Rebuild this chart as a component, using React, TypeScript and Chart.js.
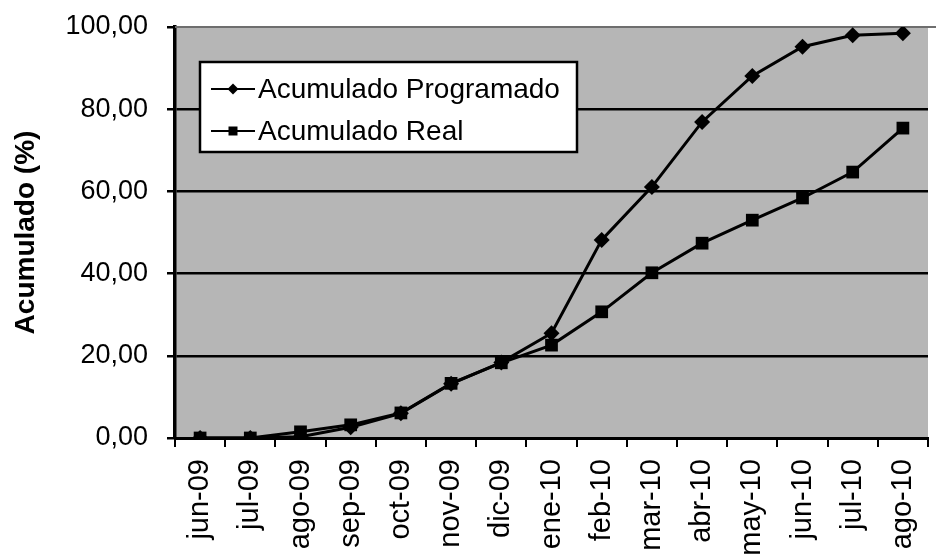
import React, { useEffect, useRef } from 'react';
import { Chart, registerables } from 'chart.js';

Chart.register(...registerables);

const categories = ['jun-09', 'jul-09', 'ago-09', 'sep-09', 'oct-09', 'nov-09', 'dic-09', 'ene-10', 'feb-10', 'mar-10', 'abr-10', 'may-10', 'jun-10', 'jul-10', 'ago-10'];
const programado = [0, 0, 0.3, 2.6, 6.0, 13.2, 18.4, 25.5, 48.2, 61.1, 76.9, 88.1, 95.2, 98.0, 98.5];
const real = [0, 0, 1.5, 3.2, 6.1, 13.3, 18.3, 22.6, 30.7, 40.2, 47.4, 53.0, 58.4, 64.7, 75.4];
const seriesNames = ['Acumulado Programado', 'Acumulado Real'];
const yMin = 0;
const yMax = 100;
const yStep = 20;
const axisTitle = 'Acumulado (%)';

const FONT = "'Liberation Sans', Arial, Helvetica, sans-serif";

const plotBg = {
  id: 'plotBg',
  beforeDraw(chart: any) {
    const { ctx, chartArea: a } = chart;
    ctx.save();
    ctx.fillStyle = '#b6b6b6';
    ctx.fillRect(a.left, a.top, a.right - a.left, a.bottom - a.top);
    ctx.restore();
  },
  beforeDatasetsDraw(chart: any) {
    const { ctx, chartArea: a } = chart;
    ctx.save();
    ctx.strokeStyle = '#6e6e6e';
    ctx.lineWidth = 2;
    ctx.beginPath();
    ctx.moveTo(a.left, a.top);
    ctx.lineTo(a.right + 10, a.top);
    ctx.stroke();
    ctx.restore();
  },
};

const boxLegend = {
  id: 'boxLegend',
  afterDraw(chart: any) {
    const { ctx, chartArea: a } = chart;
    const left = a.left + 25;
    const top = a.top + 35;
    const w = 377;
    const h = 90;
    ctx.save();
    ctx.fillStyle = '#ffffff';
    ctx.fillRect(left, top, w, h);
    ctx.strokeStyle = '#000';
    ctx.lineWidth = 2.5;
    ctx.strokeRect(left, top, w, h);
    const rows = [top + 27, top + 69];
    chart.data.datasets.forEach((ds: any, i: number) => {
      const y = rows[i];
      const x0 = left + 11;
      const x1 = left + 55;
      const xm = (x0 + x1) / 2;
      ctx.strokeStyle = '#000';
      ctx.lineWidth = 2;
      ctx.beginPath();
      ctx.moveTo(x0, y);
      ctx.lineTo(x1, y);
      ctx.stroke();
      ctx.fillStyle = '#000';
      ctx.beginPath();
      if (ds.pointStyle === 'rectRot') {
        const r = 5.5;
        ctx.moveTo(xm, y - r);
        ctx.lineTo(xm + r, y);
        ctx.lineTo(xm, y + r);
        ctx.lineTo(xm - r, y);
        ctx.closePath();
      } else {
        const s = 4.5;
        ctx.rect(xm - s, y - s, 2 * s, 2 * s);
      }
      ctx.fill();
      ctx.font = `28px ${FONT}`;
      ctx.textBaseline = 'middle';
      ctx.textAlign = 'left';
      ctx.fillText(ds.label, left + 58, y + 1);
    });
    ctx.restore();
  },
};

export default function App() {
  const ref = useRef<HTMLCanvasElement | null>(null);

  useEffect(() => {
    if (!ref.current) return;
    Chart.defaults.font.family = FONT;
    const chart = new Chart(ref.current, {
      type: 'line',
      data: {
        labels: categories,
        datasets: [
          {
            label: seriesNames[0],
            data: programado,
            borderColor: '#000',
            backgroundColor: '#000',
            borderWidth: 3,
            pointStyle: 'rectRot',
            pointRadius: 8,
            pointBorderWidth: 0,
            tension: 0,
          },
          {
            label: seriesNames[1],
            data: real,
            borderColor: '#000',
            backgroundColor: '#000',
            borderWidth: 3,
            pointStyle: 'rect',
            pointRadius: 9,
            pointBorderWidth: 0,
            tension: 0,
          },
        ],
      },
      options: {
        responsive: false,
        maintainAspectRatio: false,
        devicePixelRatio: 1,
        animation: false,
        layout: { padding: { top: 27, right: 6, left: 0, bottom: 0 } },
        plugins: {
          legend: { display: false },
          tooltip: { enabled: false },
        },
        scales: {
          x: {
            type: 'category',
            offset: true,
            grid: {
              offset: true,
              drawOnChartArea: false,
              drawTicks: true,
              tickLength: 9,
              color: '#000',
              lineWidth: 2,
            },
            border: { display: true, color: '#000', width: 3 },
            ticks: {
              autoSkip: false,
              maxRotation: 90,
              minRotation: 90,
              padding: 12,
              color: '#000',
              font: { size: 29, family: FONT },
            },
            afterFit: (s: any) => {
              s.height = 117;
            },
          },
          y: {
            min: yMin,
            max: yMax,
            ticks: {
              stepSize: yStep,
              padding: 19,
              color: '#000',
              font: { size: 27, family: FONT },
              callback: (v: any) => Number(v).toFixed(2).replace('.', ','),
            },
            grid: {
              color: (c: any) => (c.tick && c.tick.value === yMax ? 'rgba(0,0,0,0)' : '#000'),
              tickColor: '#000',
              lineWidth: 2.5,
              tickLength: 8,
            },
            border: { display: true, color: '#000', width: 3.5 },
            title: {
              display: true,
              text: axisTitle,
              color: '#000',
              font: { size: 28, weight: 'bold', family: FONT },
              padding: { top: 9, bottom: 0 },
            },
            afterFit: (s: any) => {
              s.width = 175;
              s.paddingTop = 0;
              s.paddingBottom = 0;
            },
          },
        },
      },
      plugins: [plotBg, boxLegend],
    });
    return () => chart.destroy();
  }, []);

  return (
    <div
      style={{
        position: 'fixed',
        left: 0,
        top: 0,
        width: 936,
        height: 555,
        overflow: 'hidden',
        background: '#fff',
      }}
    >
      <canvas ref={ref} width={950} height={555} style={{ display: 'block', width: 950, height: 555 }} />
    </div>
  );
}
